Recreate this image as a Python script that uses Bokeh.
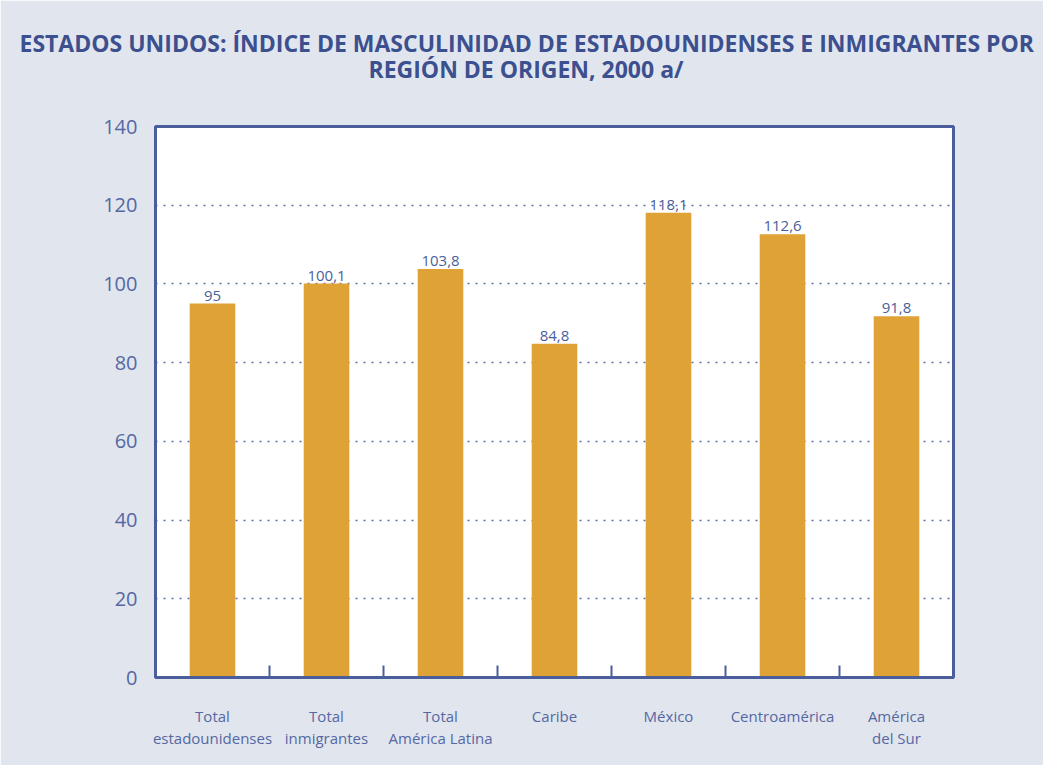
from bokeh.plotting import figure
from bokeh.models import (ColumnDataSource, Range1d, FixedTicker, Title, LinearAxis)
from bokeh.core.properties import value
from bokeh.embed import file_html
from bokeh.resources import INLINE

categories = ["Total\nestadounidenses", "Total\ninmigrantes", "Total\nAmérica Latina",
              "Caribe", "México", "Centroamérica", "América\ndel Sur"]
values = [95.0, 100.1, 103.8, 84.8, 118.1, 112.6, 91.8]
y_ticks = [0, 20, 40, 60, 80, 100, 120, 140]
title_line1 = "ESTADOS UNIDOS: ÍNDICE DE MASCULINIDAD DE ESTADOUNIDENSES E INMIGRANTES POR"
title_line2 = "REGIÓN DE ORIGEN, 2000 a/"

BG = "#E1E5EE"
AXIS = "#4A5E9C"
TXT = "#5568A3"
TITLE = "#3C4F8E"
BAR = "#DFA236"
FONT = "Open Sans"

n = len(categories)
xs = [i + 0.5 for i in range(n)]
labels = [("%g" % v).replace(".", ",") for v in values]

src = ColumnDataSource(dict(x=xs, top=values, lab=labels))

p = figure(width=1043, height=765, output_backend="svg", toolbar_location=None,
           x_range=Range1d(0, n), y_range=Range1d(0, 140),
           x_axis_location=None, y_axis_location=None,
           min_border_left=155, min_border_right=90, min_border_top=126, min_border_bottom=88)

p.background_fill_color = "white"
p.border_fill_color = BG
p.outline_line_color = AXIS
p.outline_line_width = 3

# titles: stacked outward from the frame (spacer, line 2, line 1)
p.title = Title(text=title_line1, align="left", offset=-136, text_font=FONT,
                text_font_size="23px", text_font_style="bold", text_color=TITLE,
                standoff=-17)
p.add_layout(Title(text=" ", align="center", text_font=FONT, text_font_size="10px",
                   standoff=26), "above")
p.add_layout(Title(text=title_line2, align="left", offset=213, text_font=FONT,
                   text_font_size="23px", text_font_style="bold", text_color=TITLE,
                   standoff=0), "above")

# axes
yaxis = LinearAxis(ticker=FixedTicker(ticks=y_ticks))
yaxis.axis_line_color = AXIS
yaxis.axis_line_width = 3
yaxis.major_tick_line_color = None
yaxis.minor_tick_line_color = None
yaxis.major_label_text_font = FONT
yaxis.major_label_text_font_size = "20px"
yaxis.major_label_text_color = TXT
yaxis.major_label_standoff = 12
p.add_layout(yaxis, "left")

xaxis = LinearAxis(ticker=FixedTicker(ticks=xs, minor_ticks=list(range(1, n))))
xaxis.axis_line_color = AXIS
xaxis.axis_line_width = 3
xaxis.major_tick_line_color = None
xaxis.minor_tick_line_color = AXIS
xaxis.minor_tick_line_width = 2
xaxis.minor_tick_in = 12
xaxis.minor_tick_out = 0
xaxis.major_label_overrides = {x: c for x, c in zip(xs, categories)}
xaxis.major_label_text_font = FONT
xaxis.major_label_text_font_size = "15px"
xaxis.major_label_text_color = TXT
xaxis.major_label_text_line_height = 1.1
xaxis.major_label_standoff = 22
p.add_layout(xaxis, "below")

# grid
p.xgrid.grid_line_color = None
p.ygrid.ticker = FixedTicker(ticks=[20, 40, 60, 80, 100, 120])
p.ygrid.grid_line_color = "#5C6FA8"
p.ygrid.grid_line_dash = "2 6"
p.ygrid.grid_line_width = 1.5

p.vbar(x="x", top="top", bottom=0, width=0.4, source=src, fill_color=BAR,
       line_color=None)
p.text(x="x", y="top", text="lab", source=src, text_align="center",
       text_baseline="bottom", y_offset=-3, text_font=value(FONT),
       text_font_size="15px", text_color=AXIS)

open("out.html", "w").write(file_html(p, INLINE))
